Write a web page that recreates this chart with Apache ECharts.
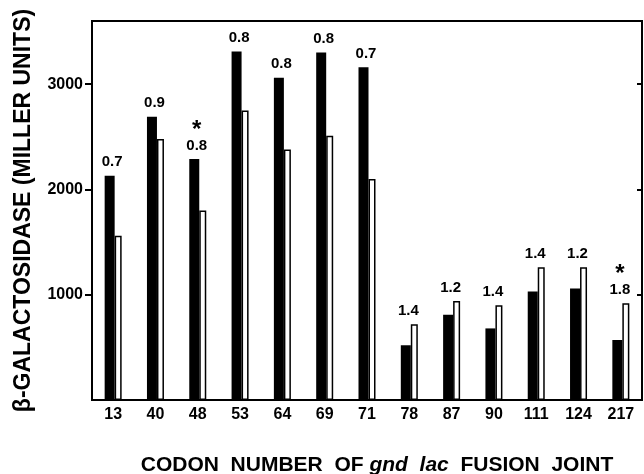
<!DOCTYPE html>
<html>
<head>
<meta charset="utf-8">
<script src="https://cdn.jsdelivr.net/npm/echarts@6/dist/echarts.min.js"></script>
<style>html,body{margin:0;padding:0;background:#fff}#c{width:644px;height:474px}</style>
</head>
<body>
<div id="c"></div>
<script>
const codons = ['13','40','48','53','64','69','71','78','87','90','111','124','217'];
const blackVals = [2130, 2690, 2290, 3310, 3060, 3300, 3160, 520, 810, 680, 1030, 1060, 570];
const whiteVals = [1560, 2480, 1800, 2750, 2380, 2510, 2100, 720, 940, 900, 1260, 1260, 920];
const ratios = ['0.7','0.9','0.8','0.8','0.8','0.8','0.7','1.4','1.2','1.4','1.4','1.2','1.8'];
const starred = [false,false,true,false,false,false,false,false,false,false,false,false,true];
const yTicks = [1000, 2000, 3000];

const FONT = 'Liberation Sans';
function lbl(i, dx) {
  return {
    show: true, position: 'top', distance: 5, offset: [dx, 0],
    formatter: starred[i] ? '{s|*}\n{v|' + ratios[i] + '}' : '{v|' + ratios[i] + '}',
    rich: {
      s: {fontSize: 24, fontWeight: 'bold', fontFamily: FONT, color: '#000', lineHeight: 14, align: 'center'},
      v: {fontSize: 15, fontWeight: 'bold', fontFamily: FONT, color: '#000', lineHeight: 17, align: 'center'}
    }
  };
}
const blackData = blackVals.map((v, i) => ({value: v, label: v >= whiteVals[i] ? lbl(i, 2.5) : {show: false}}));
const whiteData = whiteVals.map((v, i) => ({value: v, label: v > blackVals[i] ? lbl(i, -6) : {show: false}}));

const chart = echarts.init(document.getElementById('c'), null, {renderer: 'canvas'});
chart.setOption({
  animation: false,
  backgroundColor: '#fff',
  grid: {left: 92, right: 2, top: 21, bottom: 74, show: true, borderColor: '#000', borderWidth: 2, backgroundColor: 'transparent'},
  title: {
    text: '{n|CODON  NUMBER  OF }{i|gnd  lac}{n|  FUSION  JOINT}',
    left: 372, top: 450, textAlign: 'center',
    textStyle: {
      rich: {
        n: {fontSize: 21, fontFamily: FONT, fontWeight: 'bold', color: '#000'},
        i: {fontSize: 21, fontFamily: FONT, fontStyle: 'italic', color: '#000'}
      }
    }
  },
  xAxis: {
    type: 'category', data: codons,
    axisLine: {lineStyle: {color: '#000', width: 2}},
    axisTick: {alignWithLabel: true, length: 4, lineStyle: {color: '#000', width: 2}},
    axisLabel: {margin: 7, fontSize: 16, fontWeight: 'bold', fontFamily: FONT, color: '#000'}
  },
  yAxis: [{
    type: 'value', min: 0, max: 3600, interval: 1000,
    name: 'β-GALACTOSIDASE (MILLER UNITS)', nameLocation: 'middle', nameGap: 57,
    nameTextStyle: {fontSize: 23, fontWeight: 'bold', fontFamily: FONT, color: '#000'},
    axisLine: {show: true, lineStyle: {color: '#000', width: 2}},
    axisTick: {show: true, length: 7, customValues: yTicks, lineStyle: {color: '#000', width: 2}},
    axisLabel: {margin: 9, fontSize: 16, fontWeight: 'bold', fontFamily: FONT, color: '#000',
      customValues: yTicks, formatter: v => String(v)},
    splitLine: {show: false}
  }, {
    type: 'value', position: 'right', min: 0, max: 3600, interval: 1000,
    axisLine: {show: true, lineStyle: {color: '#000', width: 2}},
    axisTick: {show: true, inside: true, length: 5, customValues: yTicks, lineStyle: {color: '#000', width: 2}},
    axisLabel: {show: false},
    splitLine: {show: false}
  }],
  series: [{
    type: 'bar', data: blackData, barWidth: 10, barGap: '0%',
    itemStyle: {color: '#000'}
  }, {
    type: 'bar', data: whiteData, barWidth: 7, barGap: '0%',
    itemStyle: {color: '#fff', borderColor: '#000', borderWidth: 1.5}
  }]
});
</script>
</body>
</html>
